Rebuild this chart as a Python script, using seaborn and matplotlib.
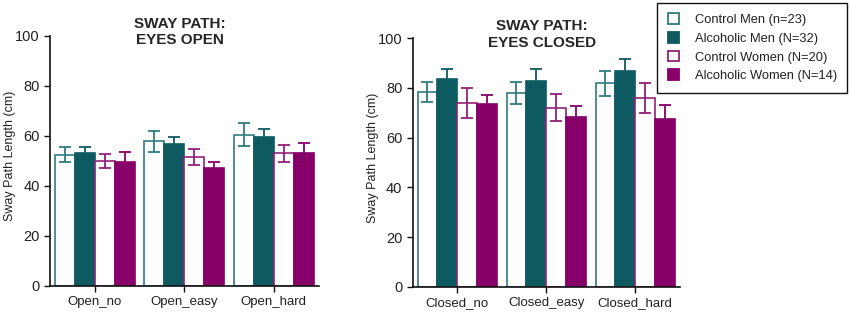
import numpy as np
import pandas as pd
import matplotlib
matplotlib.use("Agg")
import matplotlib.pyplot as plt
import seaborn as sns
from matplotlib.patches import Patch

# Groups and conditions
groups = ["Control Men (n=23)", "Alcoholic Men (N=32)",
          "Control Women (N=20)", "Alcoholic Women (N=14)"]
open_conditions = ["Open_no", "Open_easy", "Open_hard"]
closed_conditions = ["Closed_no", "Closed_easy", "Closed_hard"]

# Means (cm), one row per group, one column per condition
open_means = [
    [52.5, 57.9, 60.5],   # control men
    [53.0, 56.9, 59.5],   # alcoholic men
    [50.1, 51.5, 53.0],   # control women
    [49.5, 47.0, 53.0],   # alcoholic women
]
open_err = [
    [3.0, 4.2, 4.7],
    [2.5, 2.6, 3.4],
    [2.8, 3.2, 3.3],
    [3.9, 2.4, 4.0],
]
closed_means = [
    [78.4, 77.9, 81.9],
    [83.5, 82.7, 86.7],
    [73.9, 72.0, 76.0],
    [73.6, 68.1, 67.5],
]
closed_err = [
    [4.1, 4.5, 5.0],
    [3.9, 4.7, 4.9],
    [6.2, 5.5, 6.0],
    [3.7, 4.7, 5.5],
]

teal = "#0d5b61"
teal_edge = "#2f7c80"
purple = "#87006a"
purple_edge = "#93207a"
fill_colors = ["white", teal, "white", purple]
edge_colors = [teal_edge, teal, purple_edge, purple]
err_colors = [teal_edge, teal, purple_edge, purple]

sns.set_theme(style="ticks")
plt.rcParams["font.family"] = ["Liberation Sans", "DejaVu Sans"]


def make_df(conditions, means, errs):
    rows = []
    for g, name in enumerate(groups):
        for c, cond in enumerate(conditions):
            rows.append({"condition": cond, "group": name,
                         "mean": means[g][c], "err": errs[g][c]})
    return pd.DataFrame(rows)


def draw_panel(ax, conditions, means, errs, title):
    df = make_df(conditions, means, errs)
    sns.barplot(data=df, x="condition", y="mean", hue="group",
                order=conditions, hue_order=groups,
                palette=dict(zip(groups, [teal] * 4)),
                errorbar=None, width=0.89, legend=False, ax=ax)
    bar_conts = list(ax.containers)
    for g, cont in enumerate(bar_conts):
        sub = df[df["group"] == groups[g]].set_index("condition").loc[conditions]
        xs = []
        for bar in cont:
            bar.set_facecolor(fill_colors[g])
            bar.set_edgecolor(edge_colors[g])
            bar.set_linewidth(1.2)
            bar.set_zorder(2)
            xs.append(bar.get_x() + bar.get_width() / 2)
        ax.errorbar(xs, sub["mean"].values, yerr=sub["err"].values,
                    fmt="none", ecolor=err_colors[g], elinewidth=1.3,
                    capsize=4.5, capthick=1.3, zorder=3)
    ax.set_ylim(0, 100)
    ax.set_yticks([0, 20, 40, 60, 80, 100])
    ax.set_xlim(-0.5, 2.5)
    ax.set_xlabel("")
    ax.set_ylabel("Sway Path Length (cm)", fontsize=9, color="#222222")
    ax.yaxis.set_label_coords(-0.125, 0.52)
    ax.tick_params(axis="x", labelsize=9.5)
    ax.tick_params(axis="y", labelsize=10.5)
    ax.tick_params(axis="both", length=4, width=1,
                   colors="#111111", labelcolor="#222222")
    for s in ["left", "bottom"]:
        ax.spines[s].set_linewidth(1.2)
        ax.spines[s].set_color("#111111")
    sns.despine(ax=ax)
    ax.text(0.483, 1.075, title, transform=ax.transAxes, ha="center",
            va="top", fontsize=11, fontweight="bold", linespacing=1.2)


fig = plt.figure(figsize=(8.5, 3.15), dpi=100)
ax1 = fig.add_axes([0.0588, 0.093, 0.316, 0.793])
ax2 = fig.add_axes([0.4855, 0.089, 0.314, 0.790])

draw_panel(ax1, open_conditions, open_means, open_err, "SWAY PATH:\nEYES OPEN")
draw_panel(ax2, closed_conditions, closed_means, closed_err, "SWAY PATH:\nEYES CLOSED")

handles = [Patch(facecolor=fill_colors[i], edgecolor=edge_colors[i],
                 linewidth=1.3, label=groups[i]) for i in range(4)]
leg = fig.legend(handles=handles, loc="upper right",
                 bbox_to_anchor=(0.997, 0.99), fontsize=9.3,
                 frameon=True, fancybox=False, framealpha=1,
                 edgecolor="#111111", handlelength=0.9, handleheight=0.9,
                 handletextpad=1.2, labelspacing=0.45, borderpad=0.8,
                 borderaxespad=0)
leg.get_frame().set_linewidth(1.0)
for t in leg.get_texts():
    t.set_color("#222222")

fig.savefig("out.png", dpi=100)
